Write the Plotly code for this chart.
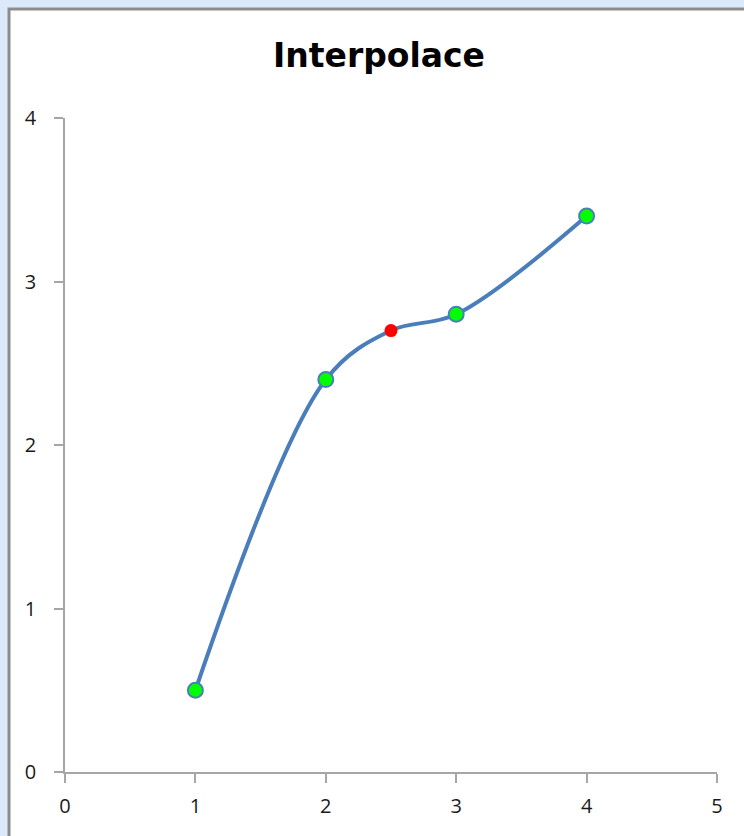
import plotly.graph_objects as go

x_known = [1, 2, 3, 4]
y_known = [0.5, 2.4, 2.8, 3.4]
x_interp = [2.5]
y_interp = [2.7]
x_ticks = [0, 1, 2, 3, 4, 5]
y_ticks = [0, 1, 2, 3, 4]
title_text = "Interpolace"

# smooth line passes through the known points and the interpolated point
line_pts = sorted(zip(x_known + x_interp, y_known + y_interp))
x_line = [p[0] for p in line_pts]
y_line = [p[1] for p in line_pts]

W, H = 744, 836
L, R, T, B = 65, 27, 118, 64
pw, ph = W - L - R, H - T - B

def px_x(p):
    return (p - L) / pw

def px_y(p):
    return (H - B - p) / ph

fig = go.Figure()
fig.add_trace(go.Scatter(
    x=x_line, y=y_line, mode="lines",
    line=dict(color="#4a7ebb", width=4, shape="spline", smoothing=1.0),
    showlegend=False, cliponaxis=False, hoverinfo="skip",
))
fig.add_trace(go.Scatter(
    x=x_known, y=y_known, mode="markers",
    marker=dict(size=15, color="#00ff00", line=dict(color="#4a7ebb", width=2)),
    showlegend=False, cliponaxis=False,
))
fig.add_trace(go.Scatter(
    x=x_interp, y=y_interp, mode="markers",
    marker=dict(size=13, color="#ff0000", line=dict(width=0)),
    showlegend=False, cliponaxis=False,
))

fig.add_shape(type="rect", xref="paper", yref="paper",
              x0=px_x(9), x1=px_x(760), y0=px_y(850), y1=px_y(9),
              fillcolor="white", line=dict(color="#8c8c8c", width=3), layer="below")

axis_common = dict(
    showgrid=False, zeroline=False, showline=True, linecolor="#a6a6a6", linewidth=1.5,
    ticks="outside", ticklen=9, tickcolor="#a6a6a6", tickwidth=1.5,
    tickfont=dict(family="Open Sans", size=20, color="#1a1a1a"),
    fixedrange=True,
)
fig.update_xaxes(range=[0, 5], tickvals=x_ticks, ticktext=[str(v) for v in x_ticks],
                 ticklabelstandoff=6, **axis_common)
fig.update_yaxes(range=[0, 4], tickvals=y_ticks, ticktext=[str(v) for v in y_ticks],
                 ticklabelstandoff=14, **axis_common)

fig.update_layout(
    width=W, height=H,
    margin=dict(l=L, r=R, t=T, b=B),
    paper_bgcolor="#dbeafb", plot_bgcolor="rgba(0,0,0,0)",
    title=dict(text="<b>" + title_text + "</b>", x=(268 + 490) / 2 / W, xanchor="center",
               y=1 - 55 / H, yanchor="middle",
               font=dict(family="DejaVu Sans", size=33, color="black")),
)

fig.write_html("out.html", config={"displayModeBar": False},
               post_script="document.body.style.margin='0';")
